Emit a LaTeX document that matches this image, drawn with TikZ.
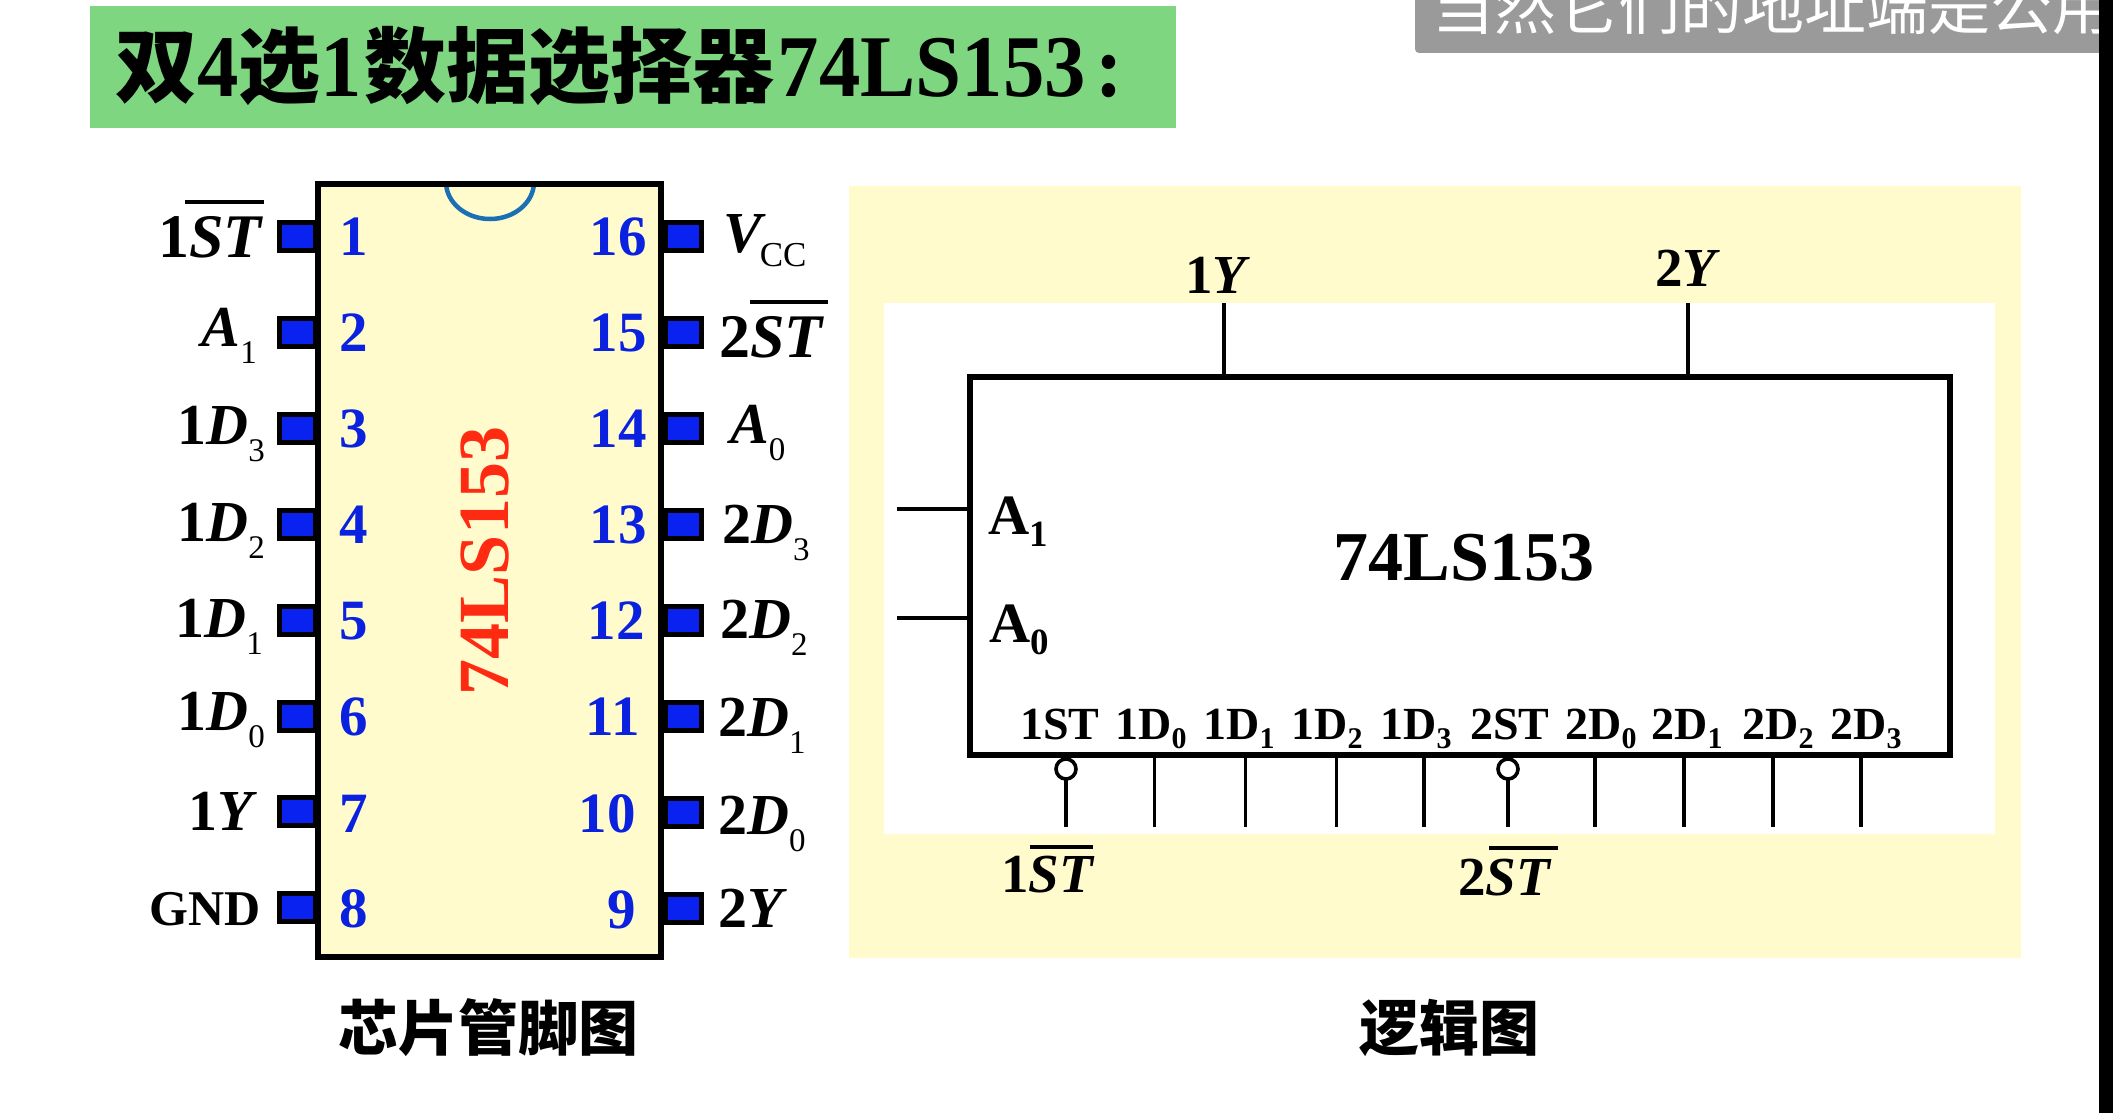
\documentclass[tikz,border=0pt]{standalone}
\usepackage{fontspec}
\setmainfont{Liberation Serif}
\newfontfamily\cjk{Noto Sans CJK SC}
\newfontfamily\titlelat{Liberation Serif}[FakeStretch=0.94]
\definecolor{panelyellow}{HTML}{FFFBCC}
\definecolor{titlegreen}{HTML}{7ED681}
\definecolor{pinblue}{HTML}{0A22F0}
\definecolor{numblue}{HTML}{0A22E0}
\definecolor{chipred}{HTML}{FF2A12}
\definecolor{notchblue}{HTML}{1B6FB5}
\definecolor{capgrey}{HTML}{9A9A9A}
\newcommand{\fs}[1]{\fontsize{#1}{#1}\selectfont}
\newcommand{\bsub}[1]{\raisebox{-0.3em}{\fs{33}\mdseries\upshape #1}}
\newcommand{\lsub}[1]{\raisebox{-0.2em}{\fs{30}\upshape #1}}
\newcommand{\msub}[1]{\raisebox{-0.22em}{\fs{37}\upshape #1}}
\tikzset{
  x=1pt,y=-1pt,
  pinbox/.style={draw=black,line width=5pt,fill=pinblue,minimum width=36pt,minimum height=28pt,inner sep=0pt,outer sep=0pt},
  pinnum/.style={font=\fs{57}\bfseries,text=numblue,inner sep=0pt},
  pinlabL/.style={font=\fs{58}\bfseries,anchor=base east,inner sep=0pt},
  pinlabR/.style={font=\fs{58}\bfseries,anchor=base west,inner sep=0pt},
  outlab/.style={font=\fs{55}\bfseries,anchor=base,inner sep=0pt},
  inlab/.style={font=\fs{46}\bfseries,anchor=base,inner sep=0pt},
  addrlab/.style={font=\fs{57}\bfseries,anchor=base west,inner sep=0pt},
  wire/.style={line width=3.9pt},
  bubble/.style={circle,draw=black,line width=3.6pt,fill=white,minimum size=20pt,inner sep=0pt,outer sep=0pt},
  ovbar/.style={line width=3.2pt},
  caption/.style={font=\fs{60}\cjk\bfseries,anchor=center,inner sep=0pt},
}
\begin{document}
\begin{tikzpicture}
\useasboundingbox (0,0) rectangle (2113,1113);
\clip (0,0) rectangle (2113,1113);
\fill[white] (0,0) rectangle (2113,1113);
% title
\fill[titlegreen] (90,6) rectangle (1176,128);
\node[anchor=base west,inner sep=0pt,font=\fs{82}\bfseries] (title) at (115,97)
  {{\cjk 双}{\titlelat\fs{88}4}{\cjk 选}{\titlelat\fs{88}1}\hspace{3pt}{\cjk 数据选择器}\hspace{3pt}{\titlelat\fs{88}74LS153}\hspace{10pt}{\titlelat\fs{88}:}};
% subtitle caption
\fill[capgrey,rounded corners=4pt] (1415,-10) rectangle (2113,53);
\node[anchor=base west,inner sep=0pt,font=\fs{62}\cjk,text=white] (sub) at (1432,30) {当然它们的地址端是公用};
\fill[black] (2099,0) rectangle (2113,1113);
% yellow panel
\fill[panelyellow] (849,186) rectangle (2021,958);
\fill[white] (884,303) rectangle (1995,834);
% chip
\path[fill=panelyellow] (318,184) rectangle (661,957);
\begin{scope}
\clip (318,184) rectangle (661,957);
\draw[notchblue,line width=4.5pt] (446,182) arc[start angle=180,end angle=0,x radius=44,y radius=37];
\end{scope}
\foreach \n/\y in {1/236,2/332,3/428,4/524,5/620,6/716,7/811,8/907}{
  \node[pinbox] (pin\n) at (297.5,\y) {};
}
\foreach \n/\y in {16/236,15/332,14/428,13/524,12/620,11/716,10/812,9/908}{
  \node[pinbox] (pin\n) at (683.5,\y) {};
}
\draw[line width=6pt] (318,184) rectangle (661,957);
\foreach \n/\y in {1/237,2/333,3/429,4/525,5/621,6/717,7/814,8/909}{
  \node[pinnum,anchor=center] (num\n) at (354,\y) {\n};
}
\foreach \n/\xx/\y in {16/647/237,15/647/333,14/647/429,13/647/525,12/645/621,11/640/717,10/636/814,9/636/910}{
  \node[pinnum,anchor=east] (num\n) at (\xx,\y) {\n};
}
\node[anchor=base,rotate=90,inner sep=0pt,font=\fs{72}\bfseries,text=chipred] (chipname) at (508,561) {74LS153};
% left labels
\node[pinlabL,font=\fs{62}\bfseries] (l1) at (264,257) {1\textit{ST}};
\draw[ovbar] (185,202) -- (264,202);
\node[pinlabL] (l2) at (257,346) {\textit{A}\bsub{1}};
\node[pinlabL] (l3) at (265,444) {1\textit{D}\bsub{3}};
\node[pinlabL] (l4) at (265,541) {1\textit{D}\bsub{2}};
\node[pinlabL] (l5) at (263,637) {1\textit{D}\bsub{1}};
\node[pinlabL] (l6) at (265,730) {1\textit{D}\bsub{0}};
\node[pinlabL] (l7) at (258,830) {1\textit{Y}};
\node[pinlabL,font=\fs{50}\bfseries] (l8) at (261,925) {GND};
% right labels
\node[pinlabR] (r16) at (723,252) {\textit{V}\hspace{-6pt}\raisebox{-0.25em}{\fs{35}\mdseries CC}};
\node[pinlabR,font=\fs{62}\bfseries] (r15) at (719,357) {2\textit{ST}};
\draw[ovbar] (750,302) -- (828,302);
\node[pinlabR] (r14) at (730,443) {\textit{A}\bsub{0}};
\node[pinlabR] (r13) at (722,543) {2\textit{D}\bsub{3}};
\node[pinlabR] (r12) at (720,638) {2\textit{D}\bsub{2}};
\node[pinlabR] (r11) at (718,736) {2\textit{D}\bsub{1}};
\node[pinlabR] (r10) at (718,834) {2\textit{D}\bsub{0}};
\node[pinlabR] (r9) at (718,927) {2\textit{Y}};
% logic box
\node[draw=black,line width=6pt,minimum width=980pt,minimum height=378pt,inner sep=0pt,outer sep=0pt] (box) at (1460,566) {};
\node[anchor=base,inner sep=0pt,font=\fs{70}\bfseries] (boxname) at (1464,580) {74LS153};
% outputs
\coordinate (y1end) at (1224,303);
\coordinate (y2end) at (1688,303);
\draw[wire] (y1end) -- (1224,377);
\draw[wire] (y2end) -- (1688,377);
\node[outlab] (y1) at (1218,293) {1\textit{Y}};
\node[outlab] (y2) at (1688,286) {2\textit{Y}};
% address inputs
\coordinate (a1end) at (897,509);
\coordinate (a0end) at (897,618);
\draw[wire] (a1end) -- (970,509);
\draw[wire] (a0end) -- (970,618);
\node[addrlab] (a1) at (988,534) {A\msub{1}};
\node[addrlab] (a0) at (989,642) {A\msub{0}};
% bottom inputs
\node[bubble] (b1) at (1066,769) {};
\node[bubble] (b2) at (1508,769) {};
\coordinate (b1end) at (1066,827);
\coordinate (b2end) at (1508,827);
\draw[wire] (1066,755) -- (b1.north);
\draw[wire] (1508,755) -- (b2.north);
\draw[wire] (b1.south) -- (b1end);
\draw[wire] (b2.south) -- (b2end);
\foreach \xx in {1154.5,1245.5,1336.5,1424,1595,1684,1772.6,1861}{
  \draw[wire] (\xx,755) -- (\xx,827);
}
\foreach \lab/\xx in {1ST/1060,2ST/1510}{
  \node[inlab] at (\xx,739) {\lab};
}
\foreach \a/\b/\xx in {1/0/1151,1/1/1239,1/2/1327,1/3/1416,2/0/1601,2/1/1687,2/2/1778,2/3/1866}{
  \node[inlab] at (\xx,739) {\a D\lsub{\b}};
}
\node[outlab,anchor=base west] (st1) at (1001,892) {1\textit{ST}};
\draw[ovbar] (1030,847) -- (1093,847);
\node[outlab,anchor=base west] (st2) at (1458,895) {2\textit{ST}};
\draw[ovbar] (1489,848) -- (1558,848);
% captions
\node[caption] (cap1) at (488,1028) {芯片管脚图};
\node[caption] (cap2) at (1449,1028) {逻辑图};
\end{tikzpicture}
\end{document}
